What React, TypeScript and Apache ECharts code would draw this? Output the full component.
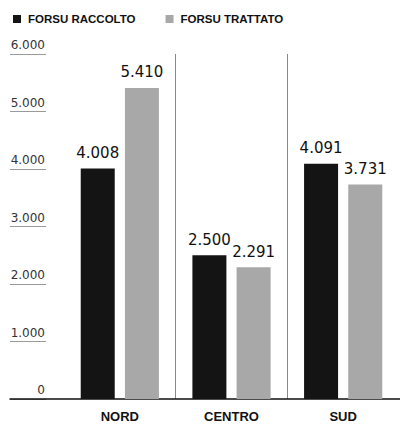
import React, { useEffect, useRef } from "react";
import * as echarts from "echarts";

const categories = ["NORD", "CENTRO", "SUD"];
const raccolto = [4008, 2500, 4091];
const trattato = [5410, 2291, 3731];
const seriesNames = ["FORSU RACCOLTO", "FORSU TRATTATO"];
const yMin = 0;
const yMax = 6000;
const yStep = 1000;

const fmt = (v: number) => {
  const s = String(Math.round(v));
  return s.replace(/\B(?=(\d{3})+(?!\d))/g, ".");
};

export default function App() {
  const ref = useRef<HTMLDivElement>(null);
  useEffect(() => {
    if (!ref.current) return;
    const chart = echarts.init(ref.current, undefined, { renderer: "svg" });
    const valueLabel = {
      show: true,
      position: "top" as const,
      distance: 8,
      fontFamily: "DejaVu Sans",
      fontSize: 15,
      color: "#111",
      formatter: (p: any) => fmt(p.value),
    };
    chart.setOption({
      animation: false,
      backgroundColor: "#fff",
      legend: {
        left: 8,
        top: 8,
        itemWidth: 8,
        itemHeight: 8,
        itemGap: 30,
        icon: "rect",
        textStyle: {
          fontFamily: "Liberation Sans",
          fontWeight: "bold",
          fontSize: 11.5,
          color: "#111",
          padding: [0, 0, 0, 2],
        },
        data: seriesNames,
      },
      grid: [
        { left: 64, right: 1, top: 54, bottom: 26 },
        { left: 10, width: 36, top: 54, bottom: 26 },
        { left: 10, right: 0, top: 54, bottom: 26 },
      ],
      xAxis: [
        {
          type: "category",
          gridIndex: 0,
          data: categories,
          axisLine: { show: false },
          axisTick: { show: false },
          axisLabel: {
            margin: 11,
            fontFamily: "Liberation Sans",
            fontWeight: "bold",
            fontSize: 13,
            color: "#111",
          },
          splitLine: {
            show: true,
            showMinLine: false,
            showMaxLine: false,
            lineStyle: { color: "#8a8a8a", width: 1 },
          },
        },
        {
          type: "value",
          gridIndex: 1,
          show: false,
          min: 0,
          max: 1,
        },
        {
          type: "value",
          gridIndex: 2,
          min: 0,
          max: 1,
          axisLine: { show: true, lineStyle: { color: "#111", width: 1.5 } },
          axisTick: { show: false },
          axisLabel: { show: false },
          splitLine: { show: false },
        },
      ],
      yAxis: [
        {
          type: "value",
          gridIndex: 0,
          min: yMin,
          max: yMax,
          interval: yStep,
          axisLine: { show: false },
          axisTick: { show: false },
          splitLine: { show: false },
          axisLabel: {
            margin: 19,
            verticalAlign: "bottom",
            padding: [0, 0, 3, 0],
            fontFamily: "DejaVu Sans",
            fontSize: 12,
            color: "#333",
            formatter: (v: number) => fmt(v),
          },
        },
        {
          type: "value",
          gridIndex: 1,
          min: yMin,
          max: yMax,
          interval: yStep,
          axisLine: { show: false },
          axisTick: { show: false },
          axisLabel: { show: false },
          splitLine: { show: true, lineStyle: { color: "#9a9a9a", width: 1 } },
        },
        {
          type: "value",
          gridIndex: 2,
          min: 0,
          max: 1,
          show: false,
        },
      ],
      series: [
        {
          name: seriesNames[0],
          type: "bar",
          xAxisIndex: 0,
          yAxisIndex: 0,
          data: raccolto,
          barWidth: 34,
          barGap: "30%",
          itemStyle: { color: "#141414" },
          label: valueLabel,
        },
        {
          name: seriesNames[1],
          type: "bar",
          xAxisIndex: 0,
          yAxisIndex: 0,
          data: trattato,
          barWidth: 34,
          barGap: "30%",
          itemStyle: { color: "#a8a8a8" },
          label: valueLabel,
        },
      ],
    });
    return () => chart.dispose();
  }, []);
  return (
    <div
      ref={ref}
      style={{ position: "fixed", left: 0, top: 0, width: 400, height: 425 }}
    />
  );
}
